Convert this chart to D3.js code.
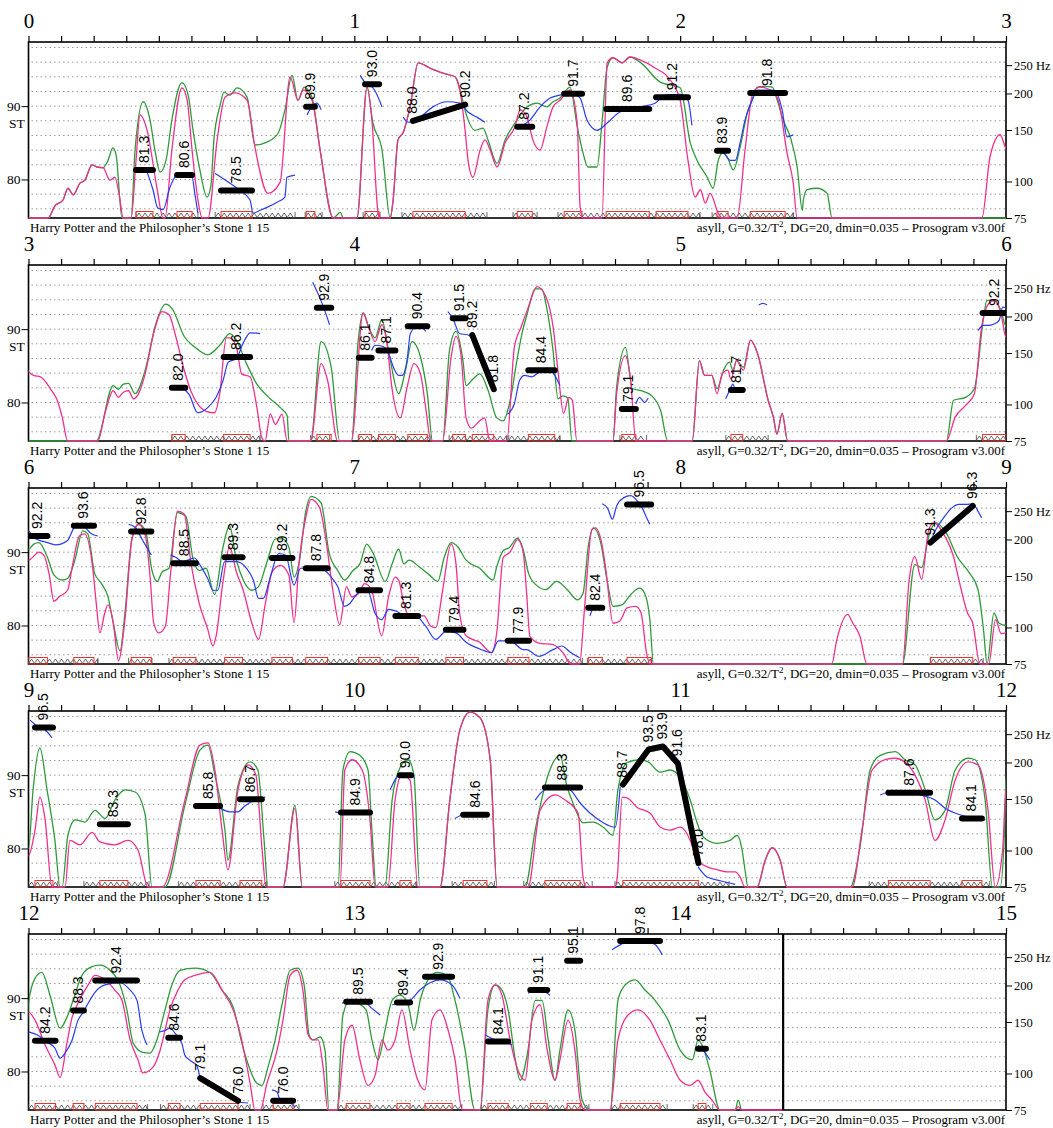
<!DOCTYPE html>
<html>
<head>
<meta charset="utf-8">
<script src="https://cdn.jsdelivr.net/npm/d3@7"></script>
<style>
  body { margin: 0; background: #fff; }
  svg text { font-family: "Liberation Serif", "Times New Roman", serif; }
  .nucleus-label { font-family: "Liberation Sans", Arial, sans-serif; font-size: 14px; }
</style>
</head>
<body>
<svg id="chart" width="1053" height="1128"></svg>
<script>
// Layout of the prosogram strips
const PANEL_SECONDS = 3;
const PANEL_COUNT = 5;
const PANEL_STEP = 223;
const FRAME = { left: 28.5, right: 1006, top: 42, bottom: 218 };

// Axis values
const hzTicks = [75, 100, 150, 200, 250];
const stTicks = [80, 90];
const gridST = d3.range(76, 99, 2);
const signalEnd = 14.316;
const footerLeft = "Harry Potter and the Philosopher\u2019s Stone 1 15";

// Intensity curve (green), [time s, semitones]
const greenCurve = [
  [0,74],[0.060,74],[0.081,76.4],[0.106,77.2],[0.121,78.8],[0.137,77.9],[0.158,79.5],[0.173,79.9],[0.195,82.0],[0.210,81.7],[0.229,81.6],[0.244,82.6],[0.259,84.3],[0.269,83.3],[0.287,74],[0.315,74],[0.327,84.0],[0.352,90.6],[0.373,88.1],[0.388,84.0],[0.404,81.0],[0.422,82.6],[0.440,88.1],[0.471,93.2],[0.490,91.5],[0.505,86.7],[0.526,81.3],[0.548,77.6],[0.560,79.2],[0.569,85.4],[0.588,90.1],[0.600,91.9],[0.618,91.5],[0.640,92.5],[0.671,91.2],[0.695,84.7],[0.732,85.1],[0.766,86.3],[0.787,89.5],[0.809,94.2],[0.827,90.8],[0.846,92.6],[0.870,91.2],[0.895,84.0],[0.935,74],[0.957,75.5],[0.966,74],[1.008,74],[1.039,92.6],[1.057,87.7],[1.085,84.0],[1.110,74],[1.119,77.2],[1.134,85.4],[1.150,86.4],[1.171,89.9],[1.196,95.9],[1.232,95.2],[1.272,94.5],[1.309,94.0],[1.324,92.2],[1.346,88.5],[1.370,86.7],[1.395,87.0],[1.410,85.4],[1.438,82.2],[1.463,85.4],[1.493,87.7],[1.530,89.9],[1.561,90.4],[1.591,89.9],[1.610,90.6],[1.631,91.1],[1.662,92.6],[1.684,87.2],[1.702,83.6],[1.717,81.7],[1.745,81.7],[1.760,87.7],[1.776,95.3],[1.794,96.6],[1.822,95.9],[1.846,96.7],[1.877,96.0],[1.938,93.3],[2.000,92.5],[2.031,85.0],[2.052,82.6],[2.083,80.3],[2.101,78.8],[2.117,82.6],[2.129,83.6],[2.144,83.1],[2.163,81.3],[2.184,84.4],[2.206,89.1],[2.224,91.2],[2.237,92.6],[2.261,92.7],[2.283,92.6],[2.298,90.8],[2.316,88.1],[2.338,85.8],[2.359,81.7],[2.375,75.8],[2.378,77.2],[2.390,78.6],[2.420,78.8],[2.451,78.1],[2.466,74],[3.0,74],
  [3.208,74],[3.260,82.3],[3.276,81.8],[3.291,82.5],[3.307,82.6],[3.327,81.2],[3.358,84.4],[3.390,90.6],[3.421,93.4],[3.442,92.7],[3.478,89.0],[3.509,87.6],[3.550,86.5],[3.587,87.8],[3.618,89.4],[3.638,88.5],[3.669,85.3],[3.701,82.5],[3.737,80.7],[3.773,79.3],[3.794,78.2],[3.799,74],[3.866,74],[3.898,88.3],[3.929,84.8],[3.955,74],[3.991,74],[4.012,88.5],[4.027,92.2],[4.043,90.4],[4.064,88.8],[4.084,91.3],[4.110,85.8],[4.136,81.2],[4.157,84.4],[4.177,88.3],[4.203,86.2],[4.224,81.2],[4.240,74],[4.271,74],[4.292,87.1],[4.312,89.7],[4.333,85.8],[4.343,82.3],[4.364,83.2],[4.385,83.9],[4.411,81.6],[4.437,77.9],[4.457,77.5],[4.478,80.2],[4.500,86.0],[4.515,89.5],[4.530,92.0],[4.555,95.5],[4.575,95.5],[4.590,93.0],[4.610,87.0],[4.625,80.5],[4.640,80.9],[4.655,80.6],[4.668,74],[4.794,74],[4.805,82.1],[4.832,87.5],[4.853,81.9],[4.880,81.6],[4.913,80.9],[4.940,78.9],[4.962,74],[5.037,74],[5.059,85.7],[5.075,83.7],[5.097,83.7],[5.113,81.9],[5.135,84.6],[5.151,85.5],[5.162,84.4],[5.173,85.7],[5.194,84.8],[5.216,88.5],[5.238,86.6],[5.270,80.3],[5.286,78.0],[5.297,75.7],[5.313,78.5],[5.330,74],[5.817,74],[5.839,80.3],[5.876,80.7],[5.903,81.9],[5.931,91.5],[5.941,93.9],[5.963,94.0],[5.985,92.5],
  [6.000,90.4],[6.016,91.1],[6.032,91.3],[6.058,89.3],[6.078,86.9],[6.104,86.2],[6.120,86.4],[6.141,88.7],[6.167,92.9],[6.182,92.5],[6.203,87.1],[6.224,85.7],[6.244,83.9],[6.260,80.4],[6.281,76.5],[6.296,81.7],[6.317,91.8],[6.338,93.8],[6.359,92.9],[6.379,87.5],[6.395,86.0],[6.410,87.3],[6.431,87.8],[6.457,95.4],[6.483,94.9],[6.504,89.3],[6.524,87.5],[6.545,87.8],[6.571,84.2],[6.597,90.7],[6.617,93.6],[6.638,88.9],[6.659,86.2],[6.685,84.8],[6.706,85.3],[6.732,88.7],[6.758,91.8],[6.779,91.8],[6.799,90.7],[6.815,86.6],[6.830,88.4],[6.851,95.6],[6.867,97.6],[6.898,96.7],[6.923,89.8],[6.949,87.5],[6.970,86.2],[6.996,87.5],[7.017,88.4],[7.038,91.1],[7.058,89.8],[7.095,86.0],[7.116,88.4],[7.136,90.4],[7.152,88.4],[7.168,88.9],[7.199,88.0],[7.230,86.9],[7.256,86.0],[7.276,89.3],[7.297,91.3],[7.318,90.7],[7.343,88.9],[7.385,87.8],[7.426,86.2],[7.437,88.0],[7.457,90.2],[7.475,90.6],[7.501,91.9],[7.518,90.4],[7.534,87.2],[7.556,85.6],[7.588,84.9],[7.621,86.0],[7.653,84.9],[7.685,83.5],[7.702,84.4],[7.718,90.8],[7.734,93.3],[7.756,91.3],[7.777,85.8],[7.794,82.6],[7.821,82.8],[7.848,84.2],[7.875,85.1],[7.891,84.4],[7.907,80.8],[7.918,74],[8.682,74],[8.720,88.3],[8.741,87.9],[8.763,92.2],[8.784,94.0],[8.817,92.6],[8.850,89.4],[8.887,87.2],[8.914,84.9],[8.931,79.4],[8.942,74],[8.963,81.7],[8.979,80.3],
  [9.000,80.0],[9.014,88.0],[9.035,93.7],[9.057,88.0],[9.081,81.1],[9.097,74],[9.103,74],[9.121,81.8],[9.143,83.9],[9.173,83.6],[9.204,85.2],[9.235,84.1],[9.265,86.6],[9.296,88.0],[9.327,87.7],[9.358,84.6],[9.379,74],[9.419,74],[9.480,85.9],[9.526,93.4],[9.551,94.1],[9.572,90.0],[9.603,82.5],[9.612,78.4],[9.643,88.6],[9.680,91.8],[9.704,90.7],[9.723,81.1],[9.735,74],[9.781,74],[9.818,85.9],[9.840,74],[9.950,74],[9.965,90.7],[9.987,93.2],[10.017,92.7],[10.042,90.7],[10.054,82.5],[10.067,74],[10.094,74],[10.116,86.6],[10.140,91.0],[10.165,92.1],[10.183,90.0],[10.201,74],[10.263,74],[10.293,86.6],[10.324,96.2],[10.355,98.6],[10.386,97.8],[10.417,92.1],[10.438,74],[10.524,74],[10.555,82.5],[10.600,90.7],[10.631,92.7],[10.653,88.4],[10.671,86.2],[10.702,83.5],[10.733,83.6],[10.764,82.9],[10.794,81.8],[10.809,88.0],[10.837,91.7],[10.877,92.1],[10.902,91.8],[10.939,90.4],[10.969,90.7],[11.000,89.7],[11.031,86.6],[11.052,83.5],[11.070,81.6],[11.113,80.7],[11.153,81.1],[11.175,81.8],[11.190,79.8],[11.199,77.1],[11.208,74],[11.236,74],[11.261,78.4],[11.282,80.1],[11.307,78.4],[11.328,74],[11.522,74],[11.553,80.5],[11.583,90.7],[11.614,92.7],[11.660,93.2],[11.690,92.1],[11.721,91.4],[11.752,88.0],[11.782,83.9],[11.813,85.2],[11.844,90.7],[11.884,92.3],[11.905,92.1],[11.936,86.6],[11.958,74],[11.982,74],[11.995,82.0],
  [12.000,89.3],[12.020,92.7],[12.041,93.5],[12.066,90.4],[12.097,85.9],[12.118,87.4],[12.137,89.7],[12.164,93.1],[12.195,94.3],[12.219,94.5],[12.250,93.8],[12.281,91.8],[12.302,88.4],[12.321,83.9],[12.351,82.6],[12.373,82.5],[12.394,84.3],[12.419,88.4],[12.440,91.8],[12.465,93.8],[12.511,94.1],[12.557,93.5],[12.594,91.1],[12.628,88.8],[12.658,83.3],[12.701,78.4],[12.717,78.1],[12.735,80.6],[12.757,84.3],[12.778,89.1],[12.803,93.8],[12.827,94.1],[12.846,91.8],[12.861,85.0],[12.873,84.3],[12.895,84.7],[12.910,82.9],[12.922,74],[12.947,74],[12.965,87.7],[12.987,89.7],[13.011,89.3],[13.036,88.4],[13.054,84.3],[13.073,81.6],[13.094,85.6],[13.116,89.7],[13.140,90.4],[13.165,89.1],[13.183,85.6],[13.202,89.7],[13.226,92.5],[13.254,93.5],[13.285,93.1],[13.309,89.7],[13.340,82.9],[13.370,74],[13.386,74],[13.410,88.4],[13.432,91.8],[13.453,91.1],[13.472,88.4],[13.494,81.6],[13.509,78.8],[13.533,82.9],[13.555,89.7],[13.576,89.7],[13.595,84.3],[13.616,78.8],[13.631,82.9],[13.656,88.4],[13.677,85.6],[13.699,76.1],[13.723,74],[13.785,74],[13.809,89.7],[13.831,91.8],[13.862,92.5],[13.892,91.1],[13.923,89.7],[13.963,87.0],[14.000,82.9],[14.037,81.6],[14.055,84.3],[14.070,83.3],[14.091,80.2],[14.122,74],[14.169,74],[14.178,76.1],[14.187,74]
];

// Intensity curve (pink), [time s, semitones]
const pinkCurve = [
  [0,74],[0.060,74],[0.081,76.4],[0.106,77.2],[0.121,78.8],[0.137,77.9],[0.158,79.5],[0.173,79.9],[0.195,82.0],[0.210,81.7],[0.229,81.6],[0.250,79.9],[0.265,80.3],[0.281,77.2],[0.290,74],[0.315,74],[0.330,82.6],[0.342,88.8],[0.364,86.7],[0.394,78.9],[0.413,74],[0.419,74],[0.440,84.0],[0.471,92.5],[0.487,90.8],[0.502,84.0],[0.520,77.2],[0.533,74],[0.551,74],[0.579,85.4],[0.603,91.2],[0.634,91.8],[0.671,90.8],[0.695,84.4],[0.735,78.1],[0.772,79.6],[0.803,94.0],[0.827,90.8],[0.843,92.2],[0.870,90.8],[0.895,84.0],[0.935,74],[1.008,74],[1.039,92.6],[1.054,88.1],[1.073,75.4],[1.079,74],[1.110,74],[1.119,77.2],[1.134,85.4],[1.150,86.4],[1.171,89.9],[1.196,95.9],[1.232,95.2],[1.272,94.5],[1.309,94.0],[1.324,92.2],[1.340,86.7],[1.349,82.6],[1.364,80.3],[1.386,84.0],[1.401,85.4],[1.417,84.0],[1.438,81.7],[1.463,85.0],[1.493,87.2],[1.509,89.5],[1.530,88.5],[1.548,85.4],[1.570,84.0],[1.591,87.2],[1.610,89.9],[1.631,90.8],[1.662,92.2],[1.684,87.7],[1.693,76.2],[1.702,74],[1.760,74],[1.776,95.9],[1.794,96.6],[1.822,95.9],[1.846,96.7],[1.877,96.3],[1.923,95.2],[1.969,93.6],[2.000,90.8],[2.024,82.6],[2.046,77.6],[2.062,78.6],[2.077,76.8],[2.092,78.1],[2.117,75.4],[2.129,74],[2.175,74],[2.199,84.0],[2.224,91.9],[2.245,92.6],[2.276,92.2],[2.301,90.8],[2.328,83.6],[2.347,79.5],[2.359,74],[2.926,74],[2.951,83.1],[2.982,86.1],
  [3.000,84.2],[3.016,83.7],[3.037,83.5],[3.068,81.8],[3.089,80.2],[3.104,77.9],[3.120,74],[3.213,74],[3.234,78.4],[3.260,81.6],[3.276,80.7],[3.291,81.4],[3.307,81.6],[3.322,80.5],[3.338,81.2],[3.358,83.9],[3.384,89.4],[3.410,92.4],[3.431,92.0],[3.452,89.0],[3.478,84.4],[3.498,81.6],[3.519,79.8],[3.545,78.8],[3.571,78.6],[3.587,81.2],[3.607,88.8],[3.618,88.8],[3.638,87.6],[3.654,83.9],[3.680,83.5],[3.701,79.3],[3.716,75.2],[3.726,74],[3.742,78.4],[3.758,77.0],[3.778,78.4],[3.794,74],[3.866,74],[3.898,85.3],[3.918,83.0],[3.949,74],[3.991,74],[4.027,92.2],[4.043,90.4],[4.064,88.3],[4.084,90.6],[4.100,88.1],[4.115,82.1],[4.141,77.9],[4.162,82.1],[4.183,85.3],[4.203,83.9],[4.219,79.3],[4.235,74],[4.271,74],[4.297,86.2],[4.312,89.0],[4.328,86.2],[4.343,77.9],[4.359,76.5],[4.385,77.5],[4.400,77.9],[4.416,74],[4.468,74],[4.491,87.5],[4.512,90.3],[4.534,93.0],[4.561,95.8],[4.588,94.4],[4.610,90.3],[4.626,83.9],[4.642,78.5],[4.658,80.7],[4.669,80.3],[4.683,74],[4.794,74],[4.805,81.2],[4.832,86.4],[4.848,83.0],[4.864,74],[5.037,74],[5.059,85.7],[5.075,83.7],[5.097,83.7],[5.113,81.2],[5.129,83.9],[5.146,84.4],[5.156,83.2],[5.173,85.7],[5.194,84.4],[5.216,88.5],[5.238,86.6],[5.270,80.3],[5.286,78.0],[5.297,75.7],[5.313,78.5],[5.330,74],[5.817,74],[5.844,78.0],[5.876,79.6],[5.903,81.2],[5.925,90.3],[5.947,93.5],[5.963,93.9],[5.985,92.1],
  [6.000,88.9],[6.032,90.0],[6.047,89.6],[6.063,87.1],[6.078,83.3],[6.094,83.9],[6.120,84.8],[6.135,88.2],[6.156,92.2],[6.172,92.5],[6.198,87.5],[6.208,83.0],[6.219,79.0],[6.234,81.7],[6.244,82.8],[6.260,80.4],[6.276,75.2],[6.296,80.8],[6.317,91.6],[6.338,93.8],[6.359,92.2],[6.374,86.2],[6.384,80.4],[6.400,79.0],[6.420,79.9],[6.436,87.1],[6.457,95.6],[6.478,95.2],[6.499,88.4],[6.524,83.0],[6.550,79.5],[6.566,77.2],[6.576,78.6],[6.597,86.0],[6.617,90.7],[6.638,87.3],[6.659,84.8],[6.685,80.4],[6.706,78.1],[6.727,83.0],[6.748,87.3],[6.773,88.2],[6.799,86.9],[6.815,80.4],[6.830,88.4],[6.851,94.7],[6.867,97.2],[6.893,96.1],[6.913,91.6],[6.934,84.8],[6.955,80.1],[6.976,85.3],[6.992,83.9],[7.013,84.4],[7.032,85.7],[7.053,84.8],[7.084,78.6],[7.105,83.9],[7.126,86.6],[7.136,86.2],[7.152,83.0],[7.168,81.3],[7.193,81.3],[7.214,81.3],[7.235,79.9],[7.250,79.7],[7.271,84.8],[7.297,91.1],[7.312,88.4],[7.323,81.7],[7.343,78.6],[7.385,77.7],[7.421,76.3],[7.437,79.0],[7.457,89.3],[7.478,90.0],[7.501,91.7],[7.518,90.1],[7.528,84.9],[7.539,78.5],[7.566,77.6],[7.610,77.4],[7.642,76.2],[7.664,74],[7.691,74],[7.707,82.6],[7.729,93.1],[7.740,93.3],[7.761,90.8],[7.772,87.6],[7.794,80.3],[7.815,80.6],[7.837,82.4],[7.864,82.6],[7.880,81.7],[7.897,76.2],[7.907,74],[8.465,74],[8.481,78.1],[8.514,81.5],[8.530,80.3],[8.552,78.5],[8.573,74],[8.682,74],[8.703,86.3],[8.720,89.4],[8.741,86.3],[8.763,93.1],[8.779,94.0],[8.812,92.2],[8.839,89.4],[8.855,86.3],[8.882,81.7],[8.898,80.3],[8.920,74],[8.947,74],[8.968,80.8],[8.985,78.9],
  [9.000,79.0],[9.020,82.5],[9.035,87.0],[9.051,83.9],[9.072,74],[9.112,74],[9.127,81.1],[9.158,80.5],[9.195,82.2],[9.219,80.9],[9.265,80.5],[9.305,81.1],[9.336,79.8],[9.367,74],[9.410,74],[9.480,86.6],[9.526,94.1],[9.551,94.4],[9.572,90.7],[9.594,82.5],[9.612,77.1],[9.643,88.0],[9.674,91.4],[9.698,90.0],[9.717,79.8],[9.729,74],[9.781,74],[9.818,85.5],[9.840,74],[9.956,74],[9.971,90.7],[9.993,92.1],[10.024,90.7],[10.048,83.9],[10.064,74],[10.103,74],[10.125,86.6],[10.146,90.0],[10.171,89.3],[10.195,74],[10.263,74],[10.293,86.6],[10.324,96.2],[10.355,98.6],[10.386,97.8],[10.417,92.1],[10.438,74],[10.533,74],[10.570,85.2],[10.616,87.3],[10.647,86.6],[10.687,84.8],[10.702,76.1],[10.712,74],[10.800,74],[10.807,76.1],[10.822,87.0],[10.837,86.9],[10.868,85.6],[10.908,84.8],[10.939,82.9],[10.969,82.5],[11.000,82.9],[11.031,81.1],[11.052,78.4],[11.083,77.5],[11.113,77.1],[11.144,76.8],[11.169,76.8],[11.184,76.1],[11.199,74],[11.236,74],[11.261,78.4],[11.282,80.1],[11.307,78.4],[11.328,74],[11.528,74],[11.558,82.5],[11.589,90.7],[11.629,92.1],[11.660,92.3],[11.690,91.8],[11.721,90.0],[11.752,86.6],[11.782,81.1],[11.813,83.9],[11.844,89.3],[11.884,91.8],[11.914,91.4],[11.945,85.2],[11.967,74],[11.990,80.0],
  [12.000,88.1],[12.020,87.0],[12.051,83.6],[12.081,80.9],[12.097,79.2],[12.118,83.9],[12.134,87.4],[12.152,89.3],[12.183,91.8],[12.204,93.1],[12.235,92.5],[12.265,91.1],[12.287,89.7],[12.312,84.3],[12.336,81.6],[12.351,79.8],[12.382,80.6],[12.404,82.9],[12.419,85.6],[12.434,88.4],[12.459,91.1],[12.480,92.5],[12.511,93.1],[12.557,93.5],[12.594,91.1],[12.628,88.4],[12.649,85.3],[12.680,78.4],[12.695,74],[12.711,74],[12.732,78.4],[12.763,82.9],[12.781,87.0],[12.803,93.1],[12.824,93.8],[12.842,91.1],[12.858,85.0],[12.873,84.3],[12.889,84.3],[12.904,80.6],[12.919,74],[12.947,74],[12.971,84.3],[12.993,86.3],[13.017,81.6],[13.042,78.1],[13.064,79.5],[13.085,84.3],[13.103,82.9],[13.125,84.3],[13.146,88.4],[13.171,82.9],[13.195,78.8],[13.217,77.5],[13.238,87.0],[13.263,88.4],[13.288,85.6],[13.309,81.6],[13.331,74],[13.386,74],[13.410,89.7],[13.432,91.8],[13.453,90.4],[13.478,84.3],[13.502,80.2],[13.524,78.8],[13.545,87.0],[13.570,89.1],[13.592,82.9],[13.616,78.8],[13.631,81.6],[13.656,87.0],[13.677,82.9],[13.693,76.1],[13.708,74],[13.785,74],[13.809,84.3],[13.840,87.7],[13.871,88.4],[13.907,87.0],[13.938,84.3],[13.969,81.6],[14.000,78.8],[14.031,78.1],[14.055,78.8],[14.076,77.2],[14.098,76.1],[14.122,74],[14.169,74],[14.178,75.2],[14.190,74],[14.316,74]
];

// Measured pitch (blue), one array per voiced stretch
const pitchSegments = [
  [[0.364,81.0],[0.382,78.6],[0.397,76.1],[0.413,75.9],[0.434,78.9],[0.456,80.6],[0.502,80.3],[0.511,77.9],[0.520,75.4]],
  [[0.573,80.8],[0.598,80.1],[0.618,79.5],[0.649,78.5],[0.680,77.2],[0.689,75.4],[0.711,75.8],[0.732,76.2],[0.763,76.9],[0.787,77.6],[0.793,80.3],[0.818,80.6]],
  [[0.855,88.8],[0.870,90.0],[0.885,90.4],[0.898,89.5]],
  [[1.018,94.2],[1.039,92.9],[1.057,92.5],[1.085,89.9]],
  [[1.150,88.5],[1.165,87.8],[1.202,88.5],[1.241,89.9],[1.284,90.6],[1.324,90.4],[1.349,89.2],[1.376,88.5],[1.401,87.8]],
  [[1.509,87.2],[1.539,88.1],[1.570,89.9],[1.601,91.1],[1.631,91.5],[1.662,91.9],[1.693,91.1],[1.714,88.1],[1.745,86.7],[1.776,87.7],[1.815,89.2],[1.877,89.9],[1.923,90.4],[1.954,91.5],[2.000,91.6],[2.024,90.8],[2.036,87.4]],
  [[2.132,84.0],[2.154,82.6],[2.169,82.6],[2.184,85.0],[2.199,88.1],[2.221,90.8],[2.237,92.2],[2.286,92.2],[2.313,89.5],[2.328,85.8],[2.347,86.1]],
  [[3.478,81.8],[3.493,81.1],[3.519,78.6],[3.535,78.8],[3.550,79.3],[3.576,80.7],[3.597,83.0],[3.613,85.5],[3.638,86.0],[3.659,88.1],[3.680,89.5],[3.711,89.4]],
  [[3.872,96.4],[3.892,94.5],[3.908,92.7],[3.924,90.6]],
  [[4.053,87.1],[4.064,87.8],[4.084,87.7],[4.105,86.7],[4.120,84.8],[4.136,83.7],[4.147,83.7],[4.162,85.8],[4.172,89.4],[4.198,90.6],[4.219,89.7]],
  [[4.287,92.4],[4.302,91.5],[4.323,89.4],[4.349,89.2],[4.380,87.6],[4.400,85.8],[4.421,83.5]],
  [[4.470,78.4],[4.491,79.8],[4.507,83.0],[4.523,83.7],[4.545,83.5],[4.566,84.1],[4.593,84.7],[4.615,83.7],[4.631,82.3]],
  [[4.864,79.8],[4.875,80.7],[4.891,80.0],[4.902,80.6]],
  [[5.140,80.5],[5.151,81.6],[5.162,82.5],[5.167,81.9]],
  [[5.241,93.3],[5.254,93.5],[5.267,93.3]],
  [[5.914,89.8],[5.931,90.5],[5.947,90.5],[5.963,90.7],[5.979,91.2],[5.990,93.0],[6.000,92.9],[6.016,92.0],[6.058,91.3],[6.083,91.0],[6.120,91.6],[6.141,93.4],[6.162,93.8],[6.193,92.5],[6.213,92.2]],
  [[6.307,93.8],[6.327,93.4],[6.348,91.8],[6.369,90.2],[6.377,89.6]],
  [[6.436,89.6],[6.452,89.3],[6.473,88.7],[6.509,89.2],[6.530,88.0],[6.550,86.4],[6.566,84.8],[6.581,84.8],[6.602,88.7],[6.638,88.7],[6.669,87.8],[6.690,86.2],[6.706,83.7],[6.721,83.7],[6.742,86.6],[6.768,89.8],[6.789,89.6],[6.815,85.5],[6.835,87.8],[6.867,87.8],[6.908,87.5],[6.929,86.6],[6.949,85.3],[6.970,82.6],[6.986,83.0],[7.001,83.9],[7.022,84.8],[7.043,84.6],[7.063,81.7],[7.084,80.8],[7.105,82.2],[7.131,81.9],[7.157,81.3],[7.188,81.3],[7.219,79.9],[7.250,78.1],[7.281,79.2],[7.312,79.0],[7.343,77.7],[7.385,76.8],[7.421,76.3],[7.442,77.9],[7.478,77.9],[7.519,76.7],[7.528,76.7],[7.566,75.8],[7.610,76.7],[7.637,77.2],[7.664,76.3],[7.691,75.6]],
  [[7.723,81.3],[7.734,82.4],[7.750,82.7],[7.761,82.5]],
  [[7.761,96.6],[7.777,96.0],[7.792,94.5],[7.805,96.3],[7.826,97.4],[7.848,97.7],[7.870,96.9],[7.886,95.8],[7.897,94.7],[7.907,93.8]],
  [[8.768,91.5],[8.790,93.5],[8.812,94.9],[8.833,96.0],[8.855,96.5],[8.877,96.5],[8.898,96.6],[8.914,95.6],[8.925,94.7]],
  [[9.005,97.5],[9.029,96.6],[9.051,96.2],[9.072,95.1]],
  [[9.588,85.5],[9.618,85.0],[9.643,85.0],[9.664,85.8],[9.695,86.6],[9.726,87.0]],
  [[9.941,85.0],[9.971,84.8],[10.002,85.0],[10.033,85.2],[10.054,85.1]],
  [[10.110,88.0],[10.128,89.6],[10.146,90.2],[10.171,90.0],[10.186,89.6]],
  [[10.309,84.1],[10.340,84.7],[10.380,84.8],[10.417,84.6]],
  [[10.555,86.6],[10.585,88.0],[10.631,88.4],[10.662,88.0],[10.693,86.2],[10.724,84.8],[10.764,83.5],[10.801,82.9],[10.816,88.4]],
  [[11.055,77.5],[11.083,76.1],[11.123,75.6],[11.169,75.1]],
  [[11.614,87.3],[11.645,87.7],[11.690,87.6],[11.736,87.3],[11.782,86.6],[11.813,85.5],[11.859,84.6],[11.905,84.1],[11.936,83.9]],
  [[12.000,85.4],[12.026,85.0],[12.057,84.0],[12.081,83.2],[12.097,81.8],[12.112,82.5],[12.134,84.3],[12.152,87.0],[12.167,88.0],[12.183,89.3],[12.204,90.8],[12.235,91.8],[12.281,92.1],[12.312,91.1],[12.333,89.7],[12.348,85.6],[12.364,83.6]],
  [[12.404,85.4],[12.419,85.6],[12.434,85.9],[12.450,85.2],[12.471,83.8],[12.480,82.2],[12.496,81.5],[12.517,80.8],[12.526,79.1]],
  [[12.643,75.8],[12.674,75.7]],
  [[12.747,77.5],[12.763,77.2],[12.772,76.1],[12.803,75.7],[12.818,75.2]],
  [[12.962,89.3],[12.993,89.7],[13.024,89.7],[13.054,88.6],[13.079,87.7]],
  [[13.116,89.1],[13.140,89.3],[13.171,89.7],[13.201,91.1],[13.232,92.1],[13.263,92.5],[13.300,91.8],[13.324,90.0]],
  [[13.401,85.0],[13.432,84.3],[13.463,84.0],[13.484,83.6]],
  [[13.533,90.7],[13.570,91.1],[13.601,90.4]],
  [[13.791,96.6],[13.831,97.6],[13.877,98.0],[13.923,97.3],[13.945,95.9]],
  [[14.055,83.6],[14.076,82.6],[14.091,81.6]]
];

// Stylized pitch of each nucleus (black), [time s, semitones]
const nuclei = [
  [[0.330,81.3],[0.382,81.3]], [[0.456,80.6],[0.502,80.6]], [[0.591,78.5],[0.686,78.5]], [[0.852,89.9],[0.879,89.9]],
  [[1.033,93.0],[1.076,93.0]], [[1.180,88.0],[1.340,90.2]], [[1.500,87.2],[1.546,87.2]], [[1.644,91.7],[1.699,91.7]],
  [[1.773,89.6],[1.905,89.6]], [[1.926,91.2],[2.024,91.2]], [[2.113,83.9],[2.147,83.9]], [[2.215,91.8],[2.322,91.8]],
  [[3.440,82.0],[3.481,82.0]], [[3.599,86.2],[3.680,86.2]], [[3.885,92.9],[3.929,92.9]], [[4.014,86.1],[4.053,86.1]],
  [[4.074,87.1],[4.126,87.1]], [[4.164,90.4],[4.224,90.4]], [[4.302,91.5],[4.341,91.5]], [[4.362,89.2],[4.428,81.8]],
  [[4.534,84.4],[4.615,84.4]], [[4.821,79.1],[4.864,79.1]], [[5.156,81.7],[5.192,81.7]], [[5.928,92.2],[6.058,92.2]],
  [[6.139,93.6],[6.201,93.6]], [[6.315,92.8],[6.377,92.8]], [[6.444,88.5],[6.514,88.5]], [[6.602,89.3],[6.657,89.3]],
  [[6.747,89.2],[6.810,89.2]], [[6.851,87.8],[6.918,87.8]], [[7.013,84.8],[7.079,84.8]], [[7.126,81.3],[7.196,81.3]],
  [[7.281,79.4],[7.335,79.4]], [[7.471,77.9],[7.536,77.9]], [[7.718,82.4],[7.761,82.4]], [[7.837,96.5],[7.911,96.5]],
  [[8.768,91.3],[8.898,96.3]],
  [[9.020,96.5],[9.075,96.5]], [[9.219,83.3],[9.305,83.3]], [[9.514,85.8],[9.588,85.8]], [[9.649,86.7],[9.716,86.7]],
  [[9.959,84.9],[10.048,84.9]], [[10.140,90.0],[10.174,90.0]], [[10.334,84.6],[10.407,84.6]], [[10.585,88.3],[10.693,88.3]],
  [[10.824,88.7],[10.903,93.5],[10.947,93.9],[10.993,91.6],[11.056,78.0]],
  [[11.639,87.6],[11.767,87.6]], [[11.865,84.1],[11.926,84.1]],
  [[12.020,84.2],[12.083,84.2]], [[12.137,88.3],[12.170,88.3]], [[12.205,92.4],[12.333,92.4]], [[12.429,84.6],[12.465,84.6]],
  [[12.527,79.1],[12.643,76.0]], [[12.751,76.0],[12.812,76.0]], [[12.975,89.5],[13.048,89.5]], [[13.131,89.4],[13.171,89.4]],
  [[13.217,92.9],[13.300,92.9]], [[13.410,84.1],[13.472,84.1]], [[13.540,91.1],[13.592,91.1]], [[13.653,95.1],[13.693,95.1]],
  [[13.816,97.8],[13.938,97.8]], [[14.055,83.1],[14.079,83.1]]
];

// Syllable spans shown with the zigzag row, [start s, end s]
const syllables = [
  [0.330,0.520],[0.573,0.818],[0.849,0.901],[1.027,1.079],[1.146,1.407],[1.487,1.561],[1.625,2.061],[2.098,2.347],
  [3.440,3.711],[3.866,3.924],[4.012,4.235],[4.291,4.468],[4.474,4.631],[4.815,4.897],[5.140,5.270],[5.909,6.213],
  [6.307,6.379],[6.431,7.700],[7.715,7.913],[8.768,8.930],
  [9.000,9.090],[9.170,9.370],[9.460,9.730],[9.940,10.190],[10.300,10.430],[10.520,10.730],[10.800,11.150],[11.580,11.950],
  [12.000,12.365],[12.405,12.680],[12.720,12.830],[12.950,13.330],[13.390,13.720],[13.790,13.960],[14.040,14.100]
];

const svg = d3.select("#chart");
const stOf = hz => 12 * Math.log2(hz);
const ST_MIN = stOf(75), ST_MAX = stOf(300);
const clampST = v => Math.max(ST_MIN, Math.min(ST_MAX, v));
const fmt = d3.format(".1f");
const byTime = d3.bisector(d => d[0]);

// keep the points of one panel plus one neighbour on each side
function slicePanel (pts, t0, t1) {
  const i0 = Math.max(0, byTime.left(pts, t0) - 1);
  const i1 = Math.min(pts.length, byTime.right(pts, t1) + 1);
  return pts.slice(i0, i1);
}

function styleAxisText (sel, size) {
  sel.attr("font-family", "Liberation Serif, Times New Roman, serif").attr("font-size", size);
  sel.select(".domain").remove();
}

for (let p = 0; p < PANEL_COUNT; p++) {
  const t0 = p * PANEL_SECONDS, t1 = t0 + PANEL_SECONDS;
  const g = svg.append("g").attr("transform", `translate(0,${p * PANEL_STEP})`);

  const x = d3.scaleLinear().domain([t0, t1]).range([FRAME.left, FRAME.right]);
  const y = d3.scaleLinear().domain([ST_MIN, ST_MAX]).range([FRAME.bottom, FRAME.top]);

  g.append("clipPath").attr("id", "clip" + p).append("rect")
    .attr("x", FRAME.left).attr("y", FRAME.top - 1)
    .attr("width", FRAME.right - FRAME.left).attr("height", FRAME.bottom - FRAME.top + 2);

  // dotted semitone grid
  g.append("g").selectAll("line").data(gridST).join("line")
    .attr("x1", FRAME.left + 3).attr("x2", FRAME.right)
    .attr("y1", d => y(d)).attr("y2", d => y(d))
    .attr("stroke", "#9a9a9a").attr("stroke-width", 1).attr("stroke-dasharray", "1.5,3");

  // frame
  g.append("rect")
    .attr("x", FRAME.left).attr("y", FRAME.top)
    .attr("width", FRAME.right - FRAME.left).attr("height", FRAME.bottom - FRAME.top)
    .attr("fill", "none").attr("stroke", "#000").attr("stroke-width", 1.6);

  // tenth-of-second ticks and second labels
  g.append("g").attr("transform", `translate(0,${FRAME.top})`)
    .call(d3.axisTop(x).tickValues(d3.range(0, 31).map(i => t0 + i / 10)).tickSize(6).tickFormat(""))
    .call(s => styleAxisText(s, 12))
    .selectAll("line").attr("stroke-width", 1.2);
  g.append("g").attr("transform", `translate(0,${FRAME.top})`)
    .call(d3.axisTop(x).tickValues(d3.range(t0, t1 + 1)).tickSize(0).tickPadding(14).tickFormat(d3.format("d")))
    .call(s => styleAxisText(s, 21));

  // semitone axis
  g.append("g").attr("transform", `translate(${FRAME.left},0)`)
    .call(d3.axisLeft(y).tickValues(stTicks).tickSize(7).tickPadding(1))
    .call(s => styleAxisText(s, 13.5));
  g.append("text").attr("x", 9).attr("y", y(90) + 22).attr("font-size", 13.5).text("ST");

  // Hz axis
  g.append("g").attr("transform", `translate(${FRAME.right},0)`)
    .call(d3.axisRight(y).tickValues(hzTicks.map(stOf)).tickSize(6).tickPadding(2)
      .tickFormat((d, i) => hzTicks[i] === 250 ? "250 Hz" : hzTicks[i]))
    .call(s => styleAxisText(s, 12.5));

  // syllable zigzag row and nucleus boxes
  const marks = g.append("g").attr("clip-path", `url(#clip${p})`);
  const zig = d3.line();
  syllables.filter(s => s[1] > t0 && s[0] < t1).forEach(s => {
    const xs = x(Math.max(s[0], t0)), xe = x(Math.min(s[1], t1));
    const pts = d3.range(xs, xe, 3).map((v, i) => [v, i % 2 ? FRAME.bottom - 5 : FRAME.bottom - 0.5]);
    pts.push([xe, FRAME.bottom - 0.5]);
    marks.append("path").attr("d", zig(pts)).attr("fill", "none").attr("stroke", "#444").attr("stroke-width", 0.8);
    [xs, xe].forEach(v => marks.append("line")
      .attr("x1", v).attr("x2", v).attr("y1", FRAME.bottom - 6).attr("y2", FRAME.bottom)
      .attr("stroke", "#444").attr("stroke-width", 0.8));
  });
  marks.selectAll("rect.nuc").data(nuclei.filter(n => n[n.length - 1][0] > t0 && n[0][0] < t1)).join("rect")
    .attr("class", "nuc")
    .attr("x", n => x(Math.max(n[0][0], t0)))
    .attr("width", n => x(Math.min(n[n.length - 1][0], t1)) - x(Math.max(n[0][0], t0)))
    .attr("y", FRAME.bottom - 6.5).attr("height", 6.5)
    .attr("fill", "none").attr("stroke", "#e8342c").attr("stroke-width", 1);

  // curves
  const curves = g.append("g").attr("clip-path", `url(#clip${p})`);
  const line = d3.line().x(d => x(d[0])).y(d => y(clampST(d[1]))).curve(d3.curveMonotoneX);
  curves.append("path").attr("d", line(slicePanel(greenCurve, t0, t1)))
    .attr("fill", "none").attr("stroke", "#2f9a3a").attr("stroke-width", 1.3);
  curves.append("path").attr("d", line(slicePanel(pinkCurve, t0, t1)))
    .attr("fill", "none").attr("stroke", "#f0308e").attr("stroke-width", 1.3);
  curves.selectAll("path.f0").data(pitchSegments.filter(s => s[s.length - 1][0] > t0 && s[0][0] < t1)).join("path")
    .attr("class", "f0").attr("d", d => line(d))
    .attr("fill", "none").attr("stroke", "#2a3cf0").attr("stroke-width", 1.2);

  const visibleNuclei = nuclei.filter(n => n[n.length - 1][0] > t0 && n[0][0] < t1);
  const straight = d3.line().x(d => x(d[0])).y(d => y(d[1]));
  curves.selectAll("path.nuc").data(visibleNuclei).join("path")
    .attr("class", "nuc").attr("d", d => straight(d))
    .attr("fill", "none").attr("stroke", "#000").attr("stroke-width", 6)
    .attr("stroke-linecap", "round").attr("stroke-linejoin", "round");

  // labels: one in the middle of a level nucleus, one on each turning point otherwise
  const labels = [];
  visibleNuclei.forEach(n => {
    if (n.every(d => d[1] === n[0][1])) {
      const a = Math.max(n[0][0], t0), b = Math.min(n[n.length - 1][0], t1);
      labels.push([(a + b) / 2, n[0][1]]);
    } else {
      n.filter(d => d[0] >= t0 && d[0] <= t1).forEach(d => labels.push(d));
    }
  });
  g.append("g").selectAll("text").data(labels).join("text")
    .attr("class", "nucleus-label")
    .attr("transform", d => `translate(${x(d[0]) + 4.5},${y(d[1]) - 7}) rotate(-90)`)
    .text(d => fmt(d[1]));

  if (signalEnd > t0 && signalEnd < t1) {
    g.append("line").attr("x1", x(signalEnd)).attr("x2", x(signalEnd))
      .attr("y1", FRAME.top).attr("y2", FRAME.bottom)
      .attr("stroke", "#000").attr("stroke-width", 2.2);
  }

  // footer
  g.append("text").attr("x", 30).attr("y", FRAME.bottom + 14).attr("font-size", 13).text(footerLeft);
  const right = g.append("text").attr("x", FRAME.right - 1).attr("y", FRAME.bottom + 14)
    .attr("font-size", 13).attr("text-anchor", "end");
  right.append("tspan").text("asyll, G=0.32/T");
  right.append("tspan").attr("font-size", 9).attr("dy", -5).text("2");
  right.append("tspan").attr("dy", 5).text(", DG=20, dmin=0.035 \u2013 Prosogram v3.00f");
}
</script>
</body>
</html>
